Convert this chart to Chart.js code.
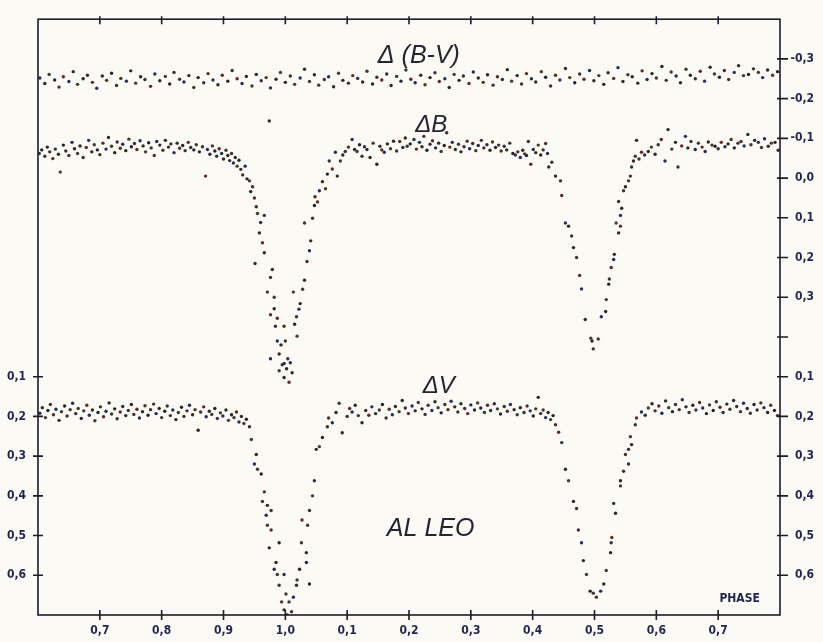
<!DOCTYPE html>
<html>
<head>
<meta charset="utf-8">
<script src="https://cdn.jsdelivr.net/npm/chart.js@4.4.0/dist/chart.umd.min.js"></script>
<style>
  html, body { margin: 0; padding: 0; background: #fbfaf5; }
  #wrap { width: 823px; height: 642px; }
</style>
</head>
<body>
<div id="wrap"><canvas id="lc" width="823" height="642"></canvas></div>
<script>
// phase axis (runs 0.6 .. 1.8, labels wrap after 1.0)
const xTickPos = [0.7, 0.8, 0.9, 1.0, 1.1, 1.2, 1.3, 1.4, 1.5, 1.6, 1.7];
const xTickLabels = ["0,7", "0,8", "0,9", "1,0", "0,1", "0,2", "0,3", "0,4", "0,5", "0,6", "0,7"];

// right axis: upper scale (Δ(B-V), ΔB) then lower scale (ΔV)
const rightTickLabels = ["-0,3", "-0,2", "-0,1", "0,0", "0,1", "0,2", "0,3", "", "0,1", "0,2", "0,3", "0,4", "0,5", "0,6"];
// left axis: lower scale only
const leftTickLabels = ["0,1", "0,2", "0,3", "0,4", "0,5", "0,6"];

// Δ(B-V), upper scale
const bvPhase = [
  0.603,0.611,0.618,0.627,0.634,0.641,0.650,0.657,0.664,0.673,
  0.680,0.688,0.695,0.704,0.711,0.719,0.727,0.734,0.743,0.750,
  0.758,0.766,0.773,0.782,0.789,0.797,0.806,0.813,0.820,0.829,
  0.836,0.844,0.852,0.859,0.868,0.875,0.883,0.891,0.898,0.907,
  0.914,0.922,0.930,0.937,0.946,0.953,0.961,0.969,0.976,0.985,
  0.992,1.000,1.008,1.015,1.024,1.031,1.039,1.047,1.054,1.063,
  1.070,1.078,1.086,1.093,1.102,1.109,1.117,1.125,1.132,1.141,
  1.148,1.156,1.164,1.171,1.180,1.187,1.195,1.203,1.210,1.219,
  1.226,1.234,1.242,1.249,1.258,1.265,1.273,1.281,1.288,1.297,
  1.304,1.312,1.320,1.327,1.336,1.343,1.351,1.359,1.366,1.375,
  1.382,1.390,1.398,1.405,1.414,1.421,1.429,1.437,1.444,1.453,
  1.460,1.468,1.476,1.483,1.492,1.499,1.507,1.515,1.522,1.531,
  1.538,1.546,1.554,1.561,1.570,1.577,1.585,1.593,1.600,1.609,
  1.616,1.624,1.632,1.639,1.648,1.655,1.663,1.671,1.678,1.687,
  1.694,1.702,1.710,1.717,1.726,1.733,1.741,1.749,1.757,1.765,
  1.772,1.780,1.788,1.796
];
const bvMag = [
  -0.252,-0.238,-0.261,-0.247,-0.229,-0.255,-0.243,-0.268,-0.236,-0.250,
  -0.259,-0.241,-0.226,-0.257,-0.246,-0.264,-0.233,-0.251,-0.244,-0.270,
  -0.239,-0.255,-0.248,-0.231,-0.262,-0.245,-0.256,-0.237,-0.266,-0.249,
  -0.242,-0.258,-0.228,-0.253,-0.240,-0.263,-0.247,-0.235,-0.259,-0.244,
  -0.271,-0.250,-0.238,-0.256,-0.232,-0.261,-0.245,-0.253,-0.227,-0.249,
  -0.266,-0.241,-0.257,-0.236,-0.252,-0.274,-0.243,-0.260,-0.234,-0.248,
  -0.255,-0.230,-0.264,-0.246,-0.239,-0.258,-0.251,-0.242,-0.269,-0.237,
  -0.254,-0.247,-0.262,-0.233,-0.256,-0.244,-0.272,-0.249,-0.240,-0.259,
  -0.235,-0.253,-0.265,-0.243,-0.250,-0.228,-0.261,-0.246,-0.257,-0.238,
  -0.267,-0.252,-0.241,-0.260,-0.234,-0.255,-0.248,-0.273,-0.244,-0.258,
  -0.237,-0.263,-0.250,-0.242,-0.268,-0.254,-0.232,-0.259,-0.247,-0.276,
  -0.253,-0.240,-0.262,-0.249,-0.271,-0.245,-0.258,-0.236,-0.265,-0.251,
  -0.278,-0.243,-0.260,-0.255,-0.239,-0.270,-0.248,-0.263,-0.252,-0.281,
  -0.246,-0.267,-0.257,-0.240,-0.274,-0.259,-0.250,-0.269,-0.244,-0.279,
  -0.262,-0.254,-0.271,-0.248,-0.266,-0.283,-0.258,-0.261,-0.275,-0.266,
  -0.253,-0.272,-0.259,-0.268
];

// ΔB, upper scale: [phase, mag]
const bObs = [
  [0.602,-0.062],[0.606,-0.071],[0.611,-0.055],[0.615,-0.078],[0.619,-0.066],[0.624,-0.049],
  [0.628,-0.073],[0.633,-0.060],[0.636,-0.015],[0.641,-0.083],[0.645,-0.068],[0.650,-0.057],
  [0.655,-0.090],[0.659,-0.074],[0.664,-0.062],[0.668,-0.081],[0.673,-0.052],[0.678,-0.077],
  [0.682,-0.095],[0.687,-0.066],[0.691,-0.084],[0.696,-0.071],[0.700,-0.059],[0.705,-0.088],
  [0.710,-0.073],[0.714,-0.102],[0.719,-0.080],[0.724,-0.064],[0.728,-0.091],[0.733,-0.075],
  [0.737,-0.085],[0.742,-0.069],[0.747,-0.098],[0.751,-0.079],[0.756,-0.087],[0.760,-0.072],
  [0.765,-0.094],[0.770,-0.081],[0.774,-0.066],[0.779,-0.089],[0.783,-0.076],[0.788,-0.057],
  [0.792,-0.092],[0.797,-0.083],[0.802,-0.070],[0.806,-0.095],[0.811,-0.078],[0.815,-0.086],
  [0.820,-0.064],[0.825,-0.088],[0.829,-0.075],[0.834,-0.082],[0.838,-0.069],[0.843,-0.090],
  [0.847,-0.077],[0.852,-0.071],[0.856,-0.084],[0.861,-0.066],[0.866,-0.079],[0.871,-0.005],
  [0.874,-0.072],[0.878,-0.060],[0.882,-0.081],[0.886,-0.068],[0.889,-0.055],[0.893,-0.074],
  [0.897,-0.062],[0.900,-0.048],[0.904,-0.070],[0.907,-0.057],[0.910,-0.044],[0.913,-0.062],
  [0.916,-0.038],[0.919,-0.052],[0.922,-0.030],[0.925,-0.045],[0.928,-0.022],[0.931,-0.008],
  [0.935,-0.030],[0.938,0.002],[0.942,0.007],[0.944,0.034],[0.947,0.022],[0.950,0.050],
  [0.951,0.215],[0.953,0.072],[0.955,0.089],[0.958,0.138],[0.960,0.112],[0.963,0.163],
  [0.966,0.094],[0.966,0.188],[0.971,0.287],[0.974,-0.144],[0.976,0.250],[0.976,0.344],
  [0.976,0.455],[0.979,0.230],[0.982,0.300],[0.982,0.329],[0.984,0.373],[0.987,0.353],
  [0.987,0.410],[0.990,0.443],[0.990,0.485],[0.993,0.420],[0.995,0.470],[0.998,0.373],
  [0.998,0.467],[0.998,0.502],[1.000,0.410],[1.002,0.480],[1.004,0.455],[1.006,0.514],
  [1.008,0.465],[1.011,0.490],[1.013,0.287],[1.015,0.368],[1.018,0.349],[1.019,0.398],
  [1.022,0.330],[1.024,0.316],[1.028,0.280],[1.031,0.257],[1.031,0.113],[1.035,0.210],
  [1.039,0.183],[1.041,0.158],[1.044,0.101],[1.047,0.069],[1.048,0.047],[1.052,0.060],
  [1.055,0.032],[1.060,0.009],[1.065,0.027],[1.068,-0.010],[1.071,-0.043],[1.076,-0.023],
  [1.081,-0.065],[1.084,-0.005],[1.089,-0.043],[1.093,-0.058],[1.097,-0.067],[1.102,-0.078],
  [1.108,-0.097],[1.112,-0.072],[1.116,-0.067],[1.120,-0.084],[1.124,-0.055],[1.128,-0.079],
  [1.132,-0.072],[1.137,-0.052],[1.142,-0.088],[1.148,-0.035],[1.153,-0.080],[1.156,-0.071],
  [1.160,-0.065],[1.165,-0.086],[1.170,-0.074],[1.175,-0.093],[1.180,-0.068],[1.185,-0.092],
  [1.190,-0.077],[1.194,-0.101],[1.197,-0.080],[1.202,-0.086],[1.208,-0.097],[1.212,-0.073],
  [1.217,-0.090],[1.221,-0.079],[1.224,-0.105],[1.229,-0.070],[1.234,-0.085],[1.238,-0.094],
  [1.243,-0.076],[1.248,-0.088],[1.252,-0.067],[1.257,-0.082],[1.261,-0.114],[1.266,-0.078],
  [1.270,-0.090],[1.275,-0.072],[1.280,-0.085],[1.284,-0.066],[1.289,-0.079],[1.294,-0.093],
  [1.298,-0.074],[1.303,-0.087],[1.308,-0.069],[1.312,-0.082],[1.317,-0.095],[1.321,-0.076],
  [1.326,-0.084],[1.331,-0.070],[1.335,-0.091],[1.340,-0.077],[1.345,-0.083],[1.349,-0.068],
  [1.354,-0.080],[1.358,-0.071],[1.363,-0.088],[1.368,-0.062],[1.372,-0.058],[1.376,-0.066],
  [1.380,-0.052],[1.384,-0.070],[1.387,-0.061],[1.390,-0.057],[1.393,-0.092],[1.397,-0.035],
  [1.401,-0.072],[1.405,-0.064],[1.409,-0.083],[1.413,-0.058],[1.417,-0.071],[1.421,-0.087],
  [1.424,-0.062],[1.426,-0.028],[1.431,-0.040],[1.437,-0.005],[1.445,0.007],[1.447,0.044],
  [1.453,0.113],[1.458,0.121],[1.463,0.146],[1.466,0.175],[1.471,0.200],[1.476,0.245],
  [1.479,0.279],[1.485,0.356],[1.494,0.403],[1.496,0.410],[1.498,0.430],[1.506,0.405],
  [1.511,0.349],[1.518,0.336],[1.519,0.306],[1.523,0.267],[1.524,0.254],[1.527,0.225],
  [1.531,0.205],[1.532,0.192],[1.535,0.113],[1.539,0.138],[1.539,0.059],[1.542,0.121],
  [1.542,0.094],[1.544,0.076],[1.547,0.032],[1.550,0.022],[1.555,0.007],[1.558,-0.005],
  [1.560,-0.028],[1.563,-0.043],[1.566,-0.055],[1.568,-0.095],[1.572,-0.048],[1.576,-0.065],
  [1.581,-0.058],[1.587,-0.067],[1.592,-0.078],[1.598,-0.060],[1.603,-0.084],[1.608,-0.097],
  [1.614,-0.043],[1.619,-0.122],[1.625,-0.073],[1.631,-0.090],[1.635,-0.028],[1.641,-0.081],
  [1.647,-0.105],[1.651,-0.076],[1.656,-0.092],[1.663,-0.072],[1.668,-0.088],[1.674,-0.078],
  [1.679,-0.067],[1.684,-0.091],[1.690,-0.083],[1.695,-0.080],[1.700,-0.074],[1.705,-0.090],
  [1.711,-0.079],[1.716,-0.086],[1.721,-0.097],[1.726,-0.076],[1.732,-0.088],[1.737,-0.092],
  [1.742,-0.081],[1.748,-0.110],[1.753,-0.084],[1.759,-0.095],[1.765,-0.090],[1.770,-0.077],
  [1.775,-0.099],[1.781,-0.080],[1.786,-0.088],[1.792,-0.090],[1.797,-0.070]
];

// ΔV, lower scale: [phase, mag]
const vObs = [
  [0.603,0.192],[0.607,0.178],[0.612,0.203],[0.616,0.185],[0.620,0.170],[0.625,0.196],
  [0.629,0.182],[0.634,0.210],[0.638,0.188],[0.643,0.174],[0.647,0.199],[0.652,0.183],
  [0.656,0.167],[0.661,0.193],[0.665,0.180],[0.670,0.205],[0.674,0.186],[0.679,0.172],
  [0.683,0.197],[0.688,0.184],[0.692,0.211],[0.697,0.190],[0.701,0.176],[0.706,0.201],
  [0.710,0.187],[0.715,0.166],[0.719,0.194],[0.724,0.181],[0.728,0.206],[0.733,0.189],
  [0.737,0.175],[0.742,0.198],[0.746,0.185],[0.751,0.170],[0.755,0.195],[0.760,0.182],
  [0.764,0.204],[0.769,0.188],[0.773,0.173],[0.778,0.197],[0.782,0.183],[0.787,0.169],
  [0.791,0.193],[0.796,0.180],[0.800,0.203],[0.805,0.187],[0.809,0.174],[0.814,0.198],
  [0.818,0.184],[0.823,0.208],[0.827,0.190],[0.832,0.177],[0.836,0.200],[0.841,0.186],
  [0.845,0.172],[0.850,0.196],[0.854,0.183],[0.859,0.235],[0.863,0.189],[0.868,0.176],
  [0.872,0.201],[0.877,0.187],[0.881,0.195],[0.886,0.180],[0.890,0.205],[0.895,0.191],
  [0.899,0.199],[0.904,0.184],[0.908,0.210],[0.913,0.196],[0.917,0.203],[0.921,0.189],
  [0.925,0.214],[0.929,0.200],[0.933,0.218],[0.937,0.207],[0.942,0.226],[0.945,0.258],
  [0.950,0.320],[0.953,0.296],[0.955,0.333],[0.961,0.345],[0.963,0.414],[0.966,0.390],
  [0.969,0.449],[0.971,0.424],[0.971,0.474],[0.974,0.531],[0.977,0.437],[0.977,0.486],
  [0.982,0.585],[0.985,0.568],[0.987,0.598],[0.990,0.518],[0.990,0.625],[0.994,0.667],
  [0.998,0.598],[0.998,0.687],[1.001,0.647],[1.003,0.700],[1.006,0.667],[1.010,0.692],
  [1.013,0.655],[1.018,0.625],[1.019,0.612],[1.023,0.585],[1.026,0.518],[1.027,0.461],
  [1.034,0.568],[1.034,0.543],[1.036,0.474],[1.039,0.622],[1.039,0.437],[1.044,0.400],
  [1.047,0.362],[1.050,0.283],[1.055,0.276],[1.060,0.253],[1.068,0.226],[1.070,0.204],
  [1.076,0.216],[1.082,0.190],[1.087,0.167],[1.092,0.241],[1.100,0.200],[1.104,0.180],
  [1.108,0.189],[1.113,0.172],[1.118,0.198],[1.124,0.216],[1.130,0.185],[1.135,0.197],
  [1.140,0.176],[1.146,0.193],[1.152,0.184],[1.157,0.170],[1.163,0.204],[1.168,0.182],
  [1.173,0.196],[1.178,0.175],[1.184,0.188],[1.189,0.160],[1.194,0.179],[1.199,0.193],
  [1.205,0.174],[1.210,0.186],[1.215,0.165],[1.221,0.181],[1.226,0.195],[1.231,0.172],
  [1.237,0.185],[1.242,0.163],[1.247,0.178],[1.252,0.191],[1.258,0.170],[1.263,0.183],
  [1.268,0.162],[1.274,0.176],[1.279,0.189],[1.284,0.168],[1.290,0.180],[1.295,0.193],
  [1.300,0.171],[1.306,0.184],[1.311,0.166],[1.316,0.179],[1.322,0.190],[1.327,0.172],
  [1.332,0.185],[1.338,0.168],[1.343,0.181],[1.348,0.194],[1.354,0.175],[1.359,0.187],
  [1.364,0.170],[1.370,0.183],[1.375,0.196],[1.380,0.178],[1.386,0.190],[1.391,0.174],
  [1.396,0.186],[1.401,0.199],[1.405,0.181],[1.409,0.152],[1.413,0.193],[1.417,0.184],
  [1.421,0.203],[1.425,0.190],[1.429,0.208],[1.433,0.198],[1.437,0.221],[1.442,0.240],
  [1.447,0.266],[1.453,0.333],[1.458,0.362],[1.466,0.414],[1.471,0.432],[1.474,0.486],
  [1.479,0.518],[1.482,0.563],[1.487,0.598],[1.493,0.640],[1.498,0.645],[1.503,0.655],
  [1.510,0.640],[1.515,0.622],[1.519,0.588],[1.526,0.543],[1.527,0.518],[1.528,0.505],
  [1.531,0.419],[1.534,0.444],[1.542,0.375],[1.542,0.362],[1.547,0.338],[1.550,0.296],
  [1.555,0.320],[1.555,0.283],[1.558,0.251],[1.560,0.271],[1.566,0.221],[1.568,0.204],
  [1.576,0.189],[1.582,0.197],[1.587,0.179],[1.593,0.168],[1.598,0.186],[1.604,0.174],
  [1.609,0.192],[1.615,0.161],[1.620,0.178],[1.626,0.188],[1.631,0.170],[1.637,0.183],
  [1.642,0.158],[1.648,0.176],[1.653,0.190],[1.659,0.172],[1.664,0.184],[1.670,0.165],
  [1.675,0.179],[1.681,0.193],[1.686,0.171],[1.692,0.185],[1.697,0.163],[1.703,0.177],
  [1.708,0.190],[1.714,0.169],[1.719,0.182],[1.725,0.160],[1.730,0.175],[1.736,0.188],
  [1.741,0.167],[1.747,0.180],[1.752,0.192],[1.758,0.170],[1.763,0.184],[1.769,0.166],
  [1.774,0.178],[1.780,0.190],[1.785,0.172],[1.791,0.185],[1.796,0.198]
];

// both magnitude scales share one vertical axis, in steps of 0.1 mag
const upper = m => (m + 0.3) * 10;
const lower = m => (m - 0.1) * 10 + 8;

const ink = "#1c1c2a";
const labelInk = "#1f2450";
const dotColors = ["#26242e", "#3b2f3a", "#5b2c24", "#223055", "#2e2b26", "#453a2a"];
const tickFont = { family: "'DejaVu Sans Condensed', 'Liberation Sans Narrow', sans-serif", size: 12, weight: "bold" };

function series(points) {
    return {
        data: points,
        showLine: false,
        pointRadius: 1.7,
        pointHoverRadius: 1.7,
        pointBorderWidth: 0,
        pointBackgroundColor: points.map((p, i) => dotColors[(i * 7 + 3) % dotColors.length])
    };
}

const bvData = bvPhase.map((p, i) => ({ x: p, y: upper(bvMag[i]) }));
const bData = bObs.map(o => ({ x: o[0], y: upper(o[1]) }));
const vData = vObs.map(o => ({ x: o[0], y: lower(o[1]) }));

// tick marks crossing the frame, frame itself, and the in-plot captions
const framePlugin = {
    id: "frame",
    afterDatasetsDraw(chart) {
        const { ctx, chartArea: a, scales } = chart;
        const xs = scales.x, yl = scales.y, yr = scales.y2;
        ctx.save();
        ctx.strokeStyle = ink;
        ctx.lineWidth = 1.6;
        ctx.strokeRect(a.left, a.top, a.right - a.left, a.bottom - a.top);
        ctx.beginPath();
        xTickPos.forEach(v => {
            const px = xs.getPixelForValue(v);
            ctx.moveTo(px, a.bottom - 5); ctx.lineTo(px, a.bottom + 5);
            ctx.moveTo(px, a.top - 3); ctx.lineTo(px, a.top + 5);
        });
        leftTickLabels.forEach((l, i) => {
            const py = yl.getPixelForValue(8 + i);
            ctx.moveTo(a.left - 5, py); ctx.lineTo(a.left + 5, py);
        });
        rightTickLabels.forEach((l, i) => {
            const py = yr.getPixelForValue(i);
            ctx.moveTo(a.right - 3, py); ctx.lineTo(a.right + 8, py);
        });
        ctx.stroke();

        ctx.fillStyle = "#26252f";
        ctx.textAlign = "center";
        ctx.textBaseline = "middle";
        ctx.font = "italic 25px 'Liberation Sans', sans-serif";
        ctx.fillText("\u0394 (B-V)", xs.getPixelForValue(1.216), yl.getPixelForValue(-0.07));
        ctx.font = "italic 24px 'Liberation Sans', sans-serif";
        ctx.fillText("\u0394B", xs.getPixelForValue(1.236), yl.getPixelForValue(1.68));
        ctx.fillText("\u0394V", xs.getPixelForValue(1.248), yl.getPixelForValue(8.25));
        ctx.font = "italic 25px 'Liberation Sans', sans-serif";
        ctx.fillText("AL LEO", xs.getPixelForValue(1.235), yl.getPixelForValue(11.83));
        ctx.fillStyle = labelInk;
        ctx.textAlign = "left";
        ctx.font = "bold 12px 'DejaVu Sans Condensed', 'Liberation Sans Narrow', sans-serif";
        ctx.fillText("PHASE", xs.getPixelForValue(1.702), yl.getPixelForValue(13.6));
        ctx.restore();
    }
};

new Chart(document.getElementById("lc"), {
    type: "scatter",
    data: {
        datasets: [series(bvData), series(bData), series(vData)]
    },
    options: {
        responsive: false,
        animation: false,
        events: [],
        layout: { padding: { top: 7, left: 0, right: 9, bottom: 0 } },
        plugins: { legend: { display: false }, tooltip: { enabled: false } },
        scales: {
            x: {
                type: "linear", position: "bottom", min: 0.6, max: 1.8,
                afterBuildTicks: s => { s.ticks = xTickPos.map(v => ({ value: v })); },
                afterFit: s => { s.height = 27; },
                grid: { display: false, drawTicks: false }, border: { display: false },
                ticks: {
                    autoSkip: false, maxRotation: 0, padding: 9,
                    font: tickFont, color: labelInk,
                    callback: (v, i) => xTickLabels[i]
                }
            },
            y: {
                type: "linear", position: "left", min: -1, max: 14, reverse: true,
                afterBuildTicks: s => { s.ticks = leftTickLabels.map((l, i) => ({ value: 8 + i })); },
                afterFit: s => { s.width = 38; },
                grid: { display: false, drawTicks: false }, border: { display: false },
                ticks: {
                    autoSkip: false, padding: 12,
                    font: tickFont, color: labelInk,
                    callback: (v, i) => leftTickLabels[i]
                }
            },
            y2: {
                type: "linear", position: "right", min: -1, max: 14, reverse: true,
                afterBuildTicks: s => { s.ticks = rightTickLabels.map((l, i) => ({ value: i })); },
                afterFit: s => { s.width = 34; },
                grid: { display: false, drawTicks: false }, border: { display: false },
                ticks: {
                    autoSkip: false, padding: 5, crossAlign: "far",
                    font: tickFont, color: labelInk,
                    callback: (v, i) => rightTickLabels[i]
                }
            }
        }
    },
    plugins: [framePlugin]
});
</script>
</body>
</html>
